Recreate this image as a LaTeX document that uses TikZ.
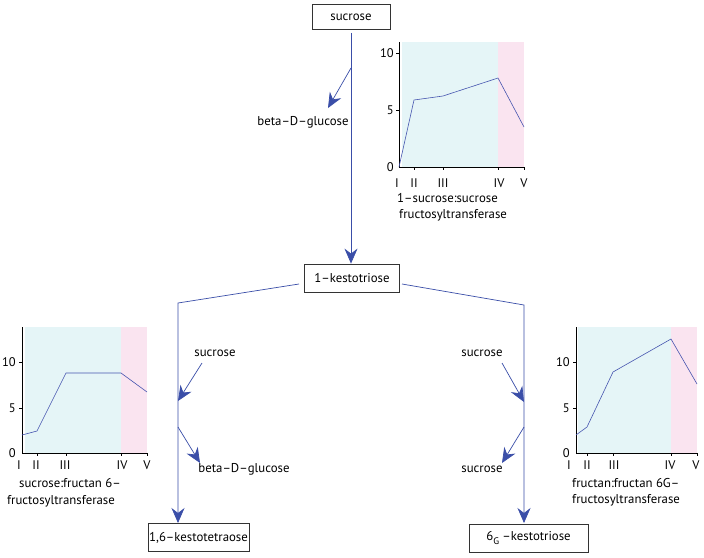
\documentclass[tikz,border=0pt]{standalone}
\usepackage{fontspec}
\setmainfont{PT Sans}
\usetikzlibrary{arrows.meta}
\definecolor{flowblue}{RGB}{58,78,168}
\definecolor{datablue}{RGB}{70,85,175}
\definecolor{bgcyan}{RGB}{229,245,247}
\definecolor{bgpink}{RGB}{250,228,240}
\begin{document}
\begin{tikzpicture}[x=1pt,y=-1pt,
  txt/.style={font=\fontsize{12.8}{14}\selectfont, inner sep=0pt},
  boxnode/.style={draw=black!80, line width=0.8pt, font=\fontsize{12.8}{14}\selectfont, inner sep=0pt, minimum height=28pt},
  flow/.style={draw=flowblue, line width=0.7pt, -{Stealth[length=15pt,width=13pt,inset=5pt]}},
  axisline/.style={black, line width=0.6pt},
  dataline/.style={datablue, line width=0.6pt},
  ticklab/.style={font=\fontsize{12.5}{13}\selectfont, inner sep=0pt}
]
\useasboundingbox (0,0) rectangle (704,557);
\fill[white] (0,0) rectangle (704,557);

% boxes
\node[boxnode, minimum width=78pt, minimum height=25pt] (suc) at (351,17) {sucrose};
\node[boxnode, minimum width=95pt] (k3) at (352,278) {1--kestotriose};
\node[boxnode, minimum width=101pt] (k4) at (198.5,537.5) {1,6--kestotetraose};
\node[boxnode, minimum width=119pt] (k6) at (528.5,538) {6\raisebox{-3.5pt}{\fontsize{9.5}{10}\selectfont G} --kestotriose};

% labels
\node[txt] (bg1) at (303,122) {beta--D--glucose};
\node[txt] (s2) at (215,353) {sucrose};
\node[txt] (bg2) at (244,469) {beta--D--glucose};
\node[txt] (s3) at (482,353) {sucrose};
\node[txt] (s4) at (482,469) {sucrose};

% main flow
\coordinate (m1) at (351,68);
\coordinate (t1) at (328,108);
\draw[flow, shorten <=3pt] (suc.south) -- (suc.south |- k3.north);
\draw[flow] (m1) -- (t1);

% left branch
\coordinate (ls) at (299,284);
\coordinate (lc) at (178,303);
\coordinate (lt) at (178,523);
\draw[flow] (ls) -- (lc) -- (lt);
\coordinate (l1a) at (202,363);
\coordinate (l1b) at (178,401);
\coordinate (l2a) at (178,427);
\coordinate (l2b) at (200,463);
\draw[flow] (l1a) -- (l1b);
\draw[flow] (l2a) -- (l2b);

% right branch
\coordinate (rs) at (402,284);
\coordinate (rc) at (524,305);
\coordinate (rt) at (524,523);
\draw[flow] (rs) -- (rc) -- (rt);
\coordinate (r1a) at (502,363);
\coordinate (r1b) at (524,402);
\coordinate (r2a) at (524,427);
\coordinate (r2b) at (502,463);
\draw[flow] (r1a) -- (r1b);
\draw[flow] (r2a) -- (r2b);

% top chart
\fill[bgcyan] (402,42) rectangle (498,167);
\fill[bgpink] (498,42) rectangle (524,167);
\draw[axisline] (399,42) -- (399,167) -- (524,167);
\foreach \x in {414,443,498,524} \draw[axisline] (\x,167) -- (\x,170);
\foreach \y in {53,110} \draw[axisline] (399,\y) -- (396,\y);
\node[ticklab, anchor=east] at (394,53) {10};
\node[ticklab, anchor=east] at (394,110) {5};
\node[ticklab, anchor=east] at (394,167) {0};
\draw[dataline] (399,167) -- (414,100) -- (443,96) -- (498,78) -- (524,127);
\foreach \x/\l in {397/I,414/II,443/III,499/IV,524/V} \node[ticklab] at (\x,183) {\l};
\node[txt, anchor=west] at (397,198) {1--sucrose:sucrose};
\node[txt, anchor=west] at (399,215) {fructosyltransferase};

% left chart
\fill[bgcyan] (25,327) rectangle (121,453);
\fill[bgpink] (121,327) rectangle (147,453);
\draw[axisline] (22,327) -- (22,453) -- (147,453);
\foreach \x in {37,66,121,147} \draw[axisline] (\x,453) -- (\x,456);
\foreach \y in {362,408} \draw[axisline] (22,\y) -- (19,\y);
\node[ticklab, anchor=east] at (16,362) {10};
\node[ticklab, anchor=east] at (16,408) {5};
\node[ticklab, anchor=east] at (16,453) {0};
\draw[dataline] (22,435) -- (37,431) -- (66,373) -- (121,373) -- (147,392);
\foreach \x/\l in {19/I,36/II,65/III,122/IV,147/V} \node[ticklab] at (\x,465) {\l};
\node[txt] at (70,483) {sucrose:fructan 6--};
\node[txt] at (61,501) {fructosyltransferase};

% right chart
\fill[bgcyan] (578,327) rectangle (671,453);
\fill[bgpink] (671,327) rectangle (697,453);
\draw[axisline] (576,327) -- (576,453) -- (697,453);
\foreach \x in {587,613,671,697} \draw[axisline] (\x,453) -- (\x,456);
\foreach \y in {362,408} \draw[axisline] (576,\y) -- (573,\y);
\node[ticklab, anchor=east] at (570,362) {10};
\node[ticklab, anchor=east] at (570,408) {5};
\node[ticklab, anchor=east] at (570,453) {0};
\draw[dataline] (576,435) -- (587,427) -- (613,372) -- (671,339) -- (697,384);
\foreach \x/\l in {569/I,587/II,614/III,670/IV,696/V} \node[ticklab] at (\x,465) {\l};
\node[txt, anchor=west] at (572,483) {fructan:fructan 6G--};
\node[txt, anchor=west] at (572,500) {fructosyltransferase};
\end{tikzpicture}
\end{document}
